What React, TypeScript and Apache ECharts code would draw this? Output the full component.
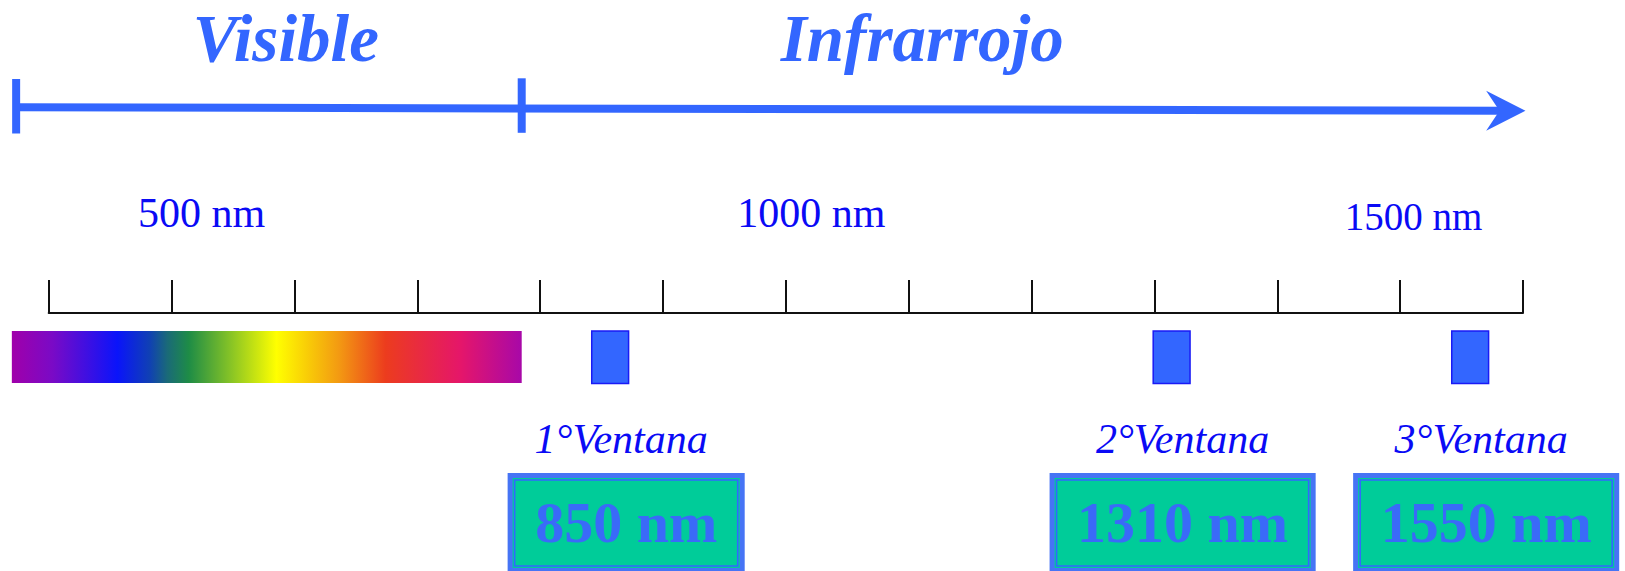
import React, { useEffect, useRef } from "react";
import * as echarts from "echarts";

// ---- data (wavelengths in nm) ----
const axisMin = 400;
const axisMax = 1600;
const axisStep = 100;
const tickLabelValues = [500, 1000, 1500];
const spectrumRange = [370, 785];
const spectrumStops = [0, 0.08, 0.207, 0.27, 0.305, 0.347, 0.424, 0.519, 0.585, 0.641, 0.733, 0.88, 1];
const spectrumColors = ["#A000AA", "#7A0AC6", "#0A14FA", "#1040B4", "#1A6A78", "#1E8C46", "#80C028", "#FFFF00", "#F8C808", "#F39A12", "#EC3C1E", "#E5166A", "#A808A8"];
const regionNames = ["Visible", "Infrarrojo"];
const regionBounds = [373.5, 785, 1602];
const regionLabelAt = [593, 1111];
const windowNames = ["1°Ventana", "2°Ventana", "3°Ventana"];
const windowBands = [
  [842, 872],
  [1299, 1329],
  [1542, 1572],
];
const windowWavelengths = [850, 1310, 1550];

// ---- layout / style ----
const W = 1625;
const H = 571;
const FONT = "Liberation Serif";
const BLUE = "#3366FF";
const TEXT_BLUE = "#0A0AF5";
const AXIS_Y = 313;
const ARROW_Y0 = 107.3;
const ARROW_Y1 = 110.7;
const BAR_TOP = 79;
const BAR_H = 54.5;
const HEAD_LEN = 39.3;
const HEAD_HALF = 20;
const HEAD_NOTCH = 26;
const TITLE_SIZE = 67;
const TITLE_MID_Y = 38;
const SPEC_TOP = 331;
const SPEC_H = 52;
const WIN_TOP = 331;
const WIN_H = 52.5;
const NAME_MID_Y = 439;
const BOX_TOP = 473;
const BOX_H = 100;
const BOX_PAD = 27.5;
const BOX_FONT_SIZE = 58;
const BOX_TEXT_MID_Y = 522.7;
const boxShift = [16, 11, 16];

const px = (api: any, nm: number) => api.coord([nm, 0])[0];

let measureCtx: CanvasRenderingContext2D | null = null;
const measure = (text: string, font: string) => {
  if (!measureCtx) measureCtx = document.createElement("canvas").getContext("2d");
  if (!measureCtx) return text.length * 30;
  measureCtx.font = font;
  return measureCtx.measureText(text).width;
};

export default function App() {
  const ref = useRef<HTMLDivElement>(null);
  useEffect(() => {
    if (!ref.current) return;
    const chart = echarts.init(ref.current, undefined, { renderer: "svg" });
    const gradient = new echarts.graphic.LinearGradient(
      0,
      0,
      1,
      0,
      spectrumColors.map((c, i) => ({ offset: spectrumStops[i], color: c }))
    );
    const rich: any = {};
    tickLabelValues.forEach((v, i) => {
      rich["t" + v] = {
        fontFamily: FONT,
        fontSize: i === 2 ? 39 : 42,
        color: TEXT_BLUE,
        padding: i === 0 ? [0, 0, 0, 60] : i === 1 ? [0, 0, 0, 51] : [6, 0, 0, 27],
      };
    });
    const option: any = {
      animation: false,
      backgroundColor: "#ffffff",
      grid: { left: 48.7, right: 102, top: 0, height: AXIS_Y },
      xAxis: {
        type: "value",
        min: axisMin,
        max: axisMax,
        interval: axisStep,
        position: "bottom",
        splitLine: { show: false },
        axisLine: { show: true, lineStyle: { color: "#111", width: 2 } },
        axisTick: { show: true, inside: true, length: 33, lineStyle: { color: "#111", width: 2 } },
        axisLabel: {
          show: true,
          inside: true,
          margin: 100,
          verticalAlign: "middle",
          formatter: (v: number) => (tickLabelValues.includes(v) ? `{t${v}|${v} nm}` : ""),
          rich,
        },
      },
      yAxis: { type: "value", min: 0, max: 1, show: false },
      series: [
        {
          type: "custom",
          silent: true,
          clip: false,
          data: [spectrumRange],
          encode: { x: [0, 1] },
          renderItem: (params: any, api: any) => {
            const x0 = px(api, api.value(0));
            const x1 = px(api, api.value(1));
            return {
              type: "rect",
              shape: { x: x0, y: SPEC_TOP, width: x1 - x0, height: SPEC_H },
              style: { fill: gradient },
            };
          },
        },
        {
          type: "custom",
          silent: true,
          clip: false,
          data: [regionBounds],
          encode: { x: [0, 1, 2] },
          renderItem: (params: any, api: any) => {
            const xl = px(api, api.value(0));
            const xm = px(api, api.value(1));
            const xt = px(api, api.value(2));
            const yAt = (x: number) => ARROW_Y0 + ((ARROW_Y1 - ARROW_Y0) * (x - xl)) / (xt - xl);
            const yt = yAt(xt);
            return {
              type: "group",
              children: [
                {
                  type: "line",
                  shape: { x1: xl, y1: yAt(xl), x2: xt - HEAD_NOTCH + 3, y2: yt },
                  style: { stroke: BLUE, lineWidth: 8 },
                },
                {
                  type: "rect",
                  shape: { x: xl - 4, y: BAR_TOP, width: 8, height: BAR_H },
                  style: { fill: BLUE },
                },
                {
                  type: "rect",
                  shape: { x: xm - 4, y: BAR_TOP - 0.7, width: 8, height: BAR_H },
                  style: { fill: BLUE },
                },
                {
                  type: "polygon",
                  shape: {
                    points: [
                      [xt, yt],
                      [xt - HEAD_LEN, yt - HEAD_HALF],
                      [xt - HEAD_NOTCH, yt],
                      [xt - HEAD_LEN, yt + HEAD_HALF],
                    ],
                  },
                  style: { fill: BLUE },
                },
              ],
            };
          },
        },
        {
          type: "custom",
          silent: true,
          clip: false,
          data: regionLabelAt.map((v, i) => [v, i]),
          encode: { x: 0 },
          renderItem: (params: any, api: any) => ({
            type: "text",
            x: px(api, api.value(0)),
            y: TITLE_MID_Y,
            style: {
              text: regionNames[params.dataIndex],
              fontFamily: FONT,
              fontStyle: "italic",
              fontWeight: "bold",
              fontSize: TITLE_SIZE,
              fill: BLUE,
              align: "center",
              verticalAlign: "middle",
            },
          }),
        },
        {
          type: "custom",
          silent: true,
          clip: false,
          data: windowBands.map((b, i) => [b[0], b[1], i]),
          encode: { x: [0, 1] },
          renderItem: (params: any, api: any) => {
            const i = params.dataIndex;
            const x0 = px(api, api.value(0));
            const x1 = px(api, api.value(1));
            const cx = (x0 + x1) / 2;
            const label = `${windowWavelengths[i]} nm`;
            const tw = measure(label, `bold ${BOX_FONT_SIZE}px "${FONT}"`);
            const bw = tw + 2 * BOX_PAD;
            const bcx = cx + boxShift[i];
            const bx = bcx - bw / 2;
            return {
              type: "group",
              children: [
                {
                  type: "rect",
                  shape: { x: x0, y: WIN_TOP, width: x1 - x0, height: WIN_H },
                  style: { fill: BLUE, stroke: "#1A1AF5", lineWidth: 1.5 },
                },
                {
                  type: "text",
                  x: cx + 11,
                  y: NAME_MID_Y,
                  style: {
                    text: windowNames[i],
                    fontFamily: FONT,
                    fontStyle: "italic",
                    fontSize: 42,
                    fill: TEXT_BLUE,
                    align: "center",
                    verticalAlign: "middle",
                  },
                },
                {
                  type: "rect",
                  shape: { x: bx + 2.5, y: BOX_TOP + 2.5, width: bw - 5, height: BOX_H - 5 },
                  style: { fill: "#00CC99", stroke: "#4674F5", lineWidth: 5 },
                },
                {
                  type: "rect",
                  shape: { x: bx + 7, y: BOX_TOP + 7, width: bw - 14, height: BOX_H - 14 },
                  style: { fill: "none", stroke: "#3366FF", lineWidth: 1.6 },
                },
                {
                  type: "text",
                  x: bcx,
                  y: BOX_TEXT_MID_Y,
                  style: {
                    text: label,
                    fontFamily: FONT,
                    fontWeight: "bold",
                    fontSize: BOX_FONT_SIZE,
                    fill: "#3A6AF8",
                    align: "center",
                    verticalAlign: "middle",
                  },
                },
              ],
            };
          },
        },
      ],
    };
    chart.setOption(option);
    return () => chart.dispose();
  }, []);
  return (
    <div
      ref={ref}
      style={{ position: "fixed", left: 0, top: 0, width: W, height: H, background: "#fff" }}
    />
  );
}
